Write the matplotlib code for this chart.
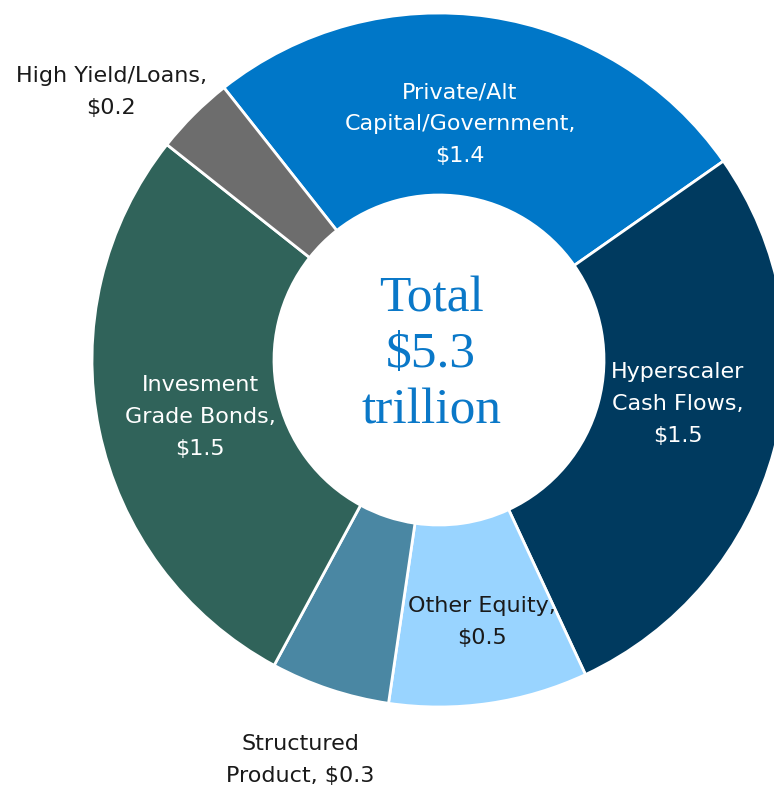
import matplotlib.pyplot as plt

# data: trillions of dollars, in clockwise order from the top
labels = ['Private/Alt\nCapital/Government,\n$1.4', 'Hyperscaler\nCash Flows,\n$1.5',
          'Other Equity,\n$0.5', 'Structured\nProduct, $0.3',
          'Invesment\nGrade Bonds,\n$1.5', 'High Yield/Loans,\n$0.2']
values = [1.4, 1.5, 0.5, 0.3, 1.5, 0.2]
colors = ['#0077C8', '#003A5F', '#99D4FF', '#4A87A3', '#30635A', '#6D6D6D']
text_colors = ['white', 'white', '#1a1a1a', '#1a1a1a', 'white', '#1a1a1a']
center_text = 'Total\n$5.3\ntrillion'

# layout in pixels (y measured from the top)
W, H = 774, 787
cx, cy = 439, 360
r_out, r_in = 347, 165
label_pos = [(460, 124), (678, 404), (482, 622), (300, 760), (200, 417), (111, 92)]

fig = plt.figure(figsize=(W / 100, H / 100), dpi=100)
ax = fig.add_axes([0, 0, 1, 1])

ax.pie(values, colors=colors, startangle=128.3, counterclock=False,
       center=(cx, H - cy), radius=r_out,
       wedgeprops=dict(width=r_out - r_in, edgecolor='white', linewidth=2))
ax.set_xlim(0, W)
ax.set_ylim(0, H)
ax.axis('off')

for lab, (x, y), tc in zip(labels, label_pos, text_colors):
    ax.text(x, H - y, lab.replace('$', r'\$'), ha='center', va='center',
            color=tc, fontsize=16, family='DejaVu Sans', linespacing=1.72)

ax.text(cx - 8, H - 355, center_text.replace('$', r'\$'), ha='center', va='center',
        color='#0A78C8', fontsize=37, family='Liberation Serif', linespacing=1.27)

plt.savefig('out.png', dpi=100)
